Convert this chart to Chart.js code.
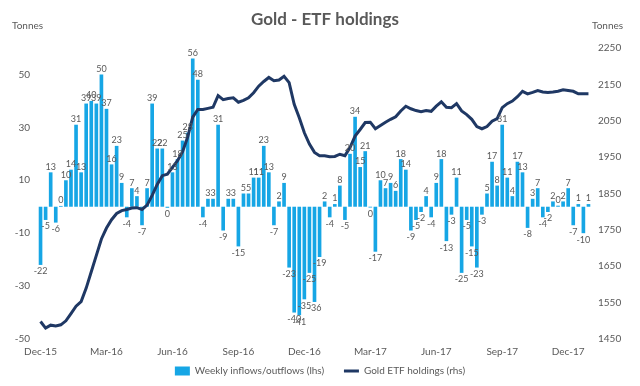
<!DOCTYPE html>
<html>
<head>
<meta charset="utf-8">
<script src="https://cdn.jsdelivr.net/npm/chart.js@4/dist/chart.umd.min.js"></script>
<style>
  html, body { margin: 0; padding: 0; background: #fff; }
  #wrap { width: 640px; height: 386px; position: relative; }
</style>
</head>
<body>
<div id="wrap"><canvas id="chartGoldEtf"></canvas></div>
<script>
// weekly inflows/outflows, tonnes (lhs) - one value per week, Dec-15 to Jan-18
const flows = [
  -22, -5, 13, -6, 0.3, 10, 14, 31, 13, 39, 40, 39, 50, 37, 16, 23, 9, -4, 7, 4,
  -7, 7, 39, 22, 22, -0.4, 13, 18, 25, 28, 56, 48, -4, 3, 3, 31, -9, 3, 3, -15,
  5, 5, 11, 11, 23, 13, -7, 2, 9, -23, -40, -41, -35, -25, -36, -19, 2, -4, 1, 8,
  -5, 20, 34, 15, 21, -0.3, -17, 10, 7, 9, 6, 18, 14, -9, -5, -2, 4, -4, 9, 18,
  -13, -3, 11, -25, -5, -15, -23, -3, 5, 17, 8, 31, 11, 4, 17, 13, -8, 3, 7, -4,
  -2, 2, 0.4, 2, 7, -7, 1, -10, 1
];

// total gold ETF holdings, tonnes (rhs)
const holdings = [
  1498, 1480, 1488, 1486, 1489, 1500, 1520, 1540, 1553, 1590, 1635, 1680, 1725, 1755, 1778, 1795, 1803, 1806, 1810, 1811,
  1806, 1818, 1845, 1875, 1899, 1903, 1922, 1940, 1965, 2005, 2060, 2081, 2081, 2084, 2087, 2119, 2108, 2111, 2113, 2101,
  2106, 2113, 2127, 2145, 2158, 2169, 2160, 2162, 2172, 2155, 2095, 2058, 2017, 1986, 1963, 1954, 1954, 1951, 1952, 1958,
  1954, 1976, 2008, 2026, 2045, 2046, 2028, 2037, 2046, 2054, 2061, 2077, 2090, 2083, 2078, 2075, 2078, 2076, 2090, 2102,
  2087, 2086, 2097, 2077, 2067, 2054, 2034, 2028, 2034, 2049, 2056, 2086, 2097, 2104, 2116, 2131, 2124, 2128, 2133, 2129,
  2128, 2129, 2131, 2135, 2133, 2131, 2124, 2124, 2124
];

const quarterLabels = ['Dec-15', 'Mar-16', 'Jun-16', 'Sep-16', 'Dec-16', 'Mar-17', 'Jun-17', 'Sep-17', 'Dec-17'];
const leftTicks = [-50, -30, -10, 10, 30, 50];
const rightTicks = [1450, 1550, 1650, 1750, 1850, 1950, 2050, 2150, 2250];

const GREY = '#595959';
const FONT = 'Lato';

// one label every 13 weeks
const weeks = flows.map((v, i) => (i % 13 === 0 ? quarterLabels[i / 13] : ''));

// value labels on the bars
const barLabels = {
  id: 'barLabels',
  afterDatasetsDraw(chart) {
    const ctx = chart.ctx;
    const meta = chart.getDatasetMeta(0);
    ctx.save();
    ctx.font = '9px ' + FONT;
    ctx.fillStyle = GREY;
    ctx.textAlign = 'center';
    meta.data.forEach((bar, i) => {
      const v = flows[i];
      const txt = String(Math.round(v)).replace('-0', '0');
      if (v >= 0) {
        ctx.textBaseline = 'bottom';
        ctx.fillText(txt, bar.x, bar.y - 1);
      } else {
        ctx.textBaseline = 'top';
        ctx.fillText(txt, bar.x, bar.y + 2);
      }
    });
    ctx.restore();
  }
};

// title and axis units
const headings = {
  id: 'headings',
  afterDraw(chart) {
    const ctx = chart.ctx;
    ctx.save();
    ctx.fillStyle = GREY;
    ctx.textBaseline = 'middle';
    ctx.textAlign = 'center';
    ctx.font = 'bold 17px ' + FONT;
    ctx.fillText('Gold - ETF holdings', 325, 20);
    ctx.font = '10px ' + FONT;
    ctx.textAlign = 'left';
    ctx.fillText('Tonnes', 12, 26);
    ctx.fillText('Tonnes', 592, 26);
    ctx.restore();
  }
};

new Chart(document.getElementById('chartGoldEtf'), {
  type: 'bar',
  data: {
    labels: weeks,
    datasets: [
      {
        type: 'bar',
        label: 'Weekly inflows/outflows (lhs)',
        data: flows,
        yAxisID: 'yL',
        backgroundColor: '#16A6E5',
        barPercentage: 0.72,
        categoryPercentage: 1,
        pointStyle: 'rect',
        order: 2
      },
      {
        type: 'line',
        label: 'Gold ETF holdings (rhs)',
        data: holdings,
        yAxisID: 'yR',
        borderColor: '#1F3864',
        backgroundColor: '#1F3864',
        borderWidth: 3,
        pointRadius: 0,
        tension: 0,
        pointStyle: 'line',
        order: 1
      }
    ]
  },
  options: {
    responsive: true,
    maintainAspectRatio: false,
    animation: false,
    layout: { padding: { top: 48, left: 0, right: 0, bottom: 0 } },
    plugins: {
      legend: {
        position: 'bottom',
        labels: {
          usePointStyle: true,
          pointStyleWidth: 15,
          boxHeight: 9,
          padding: 7,
          color: GREY,
          font: { family: FONT, size: 10 },
          sort: (a, b) => a.datasetIndex - b.datasetIndex,
          // a wider gap between the two items, as in the original
          generateLabels(chart) {
            const items = Chart.defaults.plugins.legend.labels.generateLabels(chart);
            items.forEach(it => { if (it.datasetIndex === 0) it.text += '     '; });
            return items;
          }
        }
      },
      tooltip: { enabled: false }
    },
    scales: {
      x: {
        grid: { display: false, drawTicks: false },
        border: { display: false },
        ticks: {
          autoSkip: false,
          maxRotation: 0,
          padding: 7,
          color: GREY,
          font: { family: FONT, size: 10 }
        },
        afterFit(scale) { scale.height = 20; }
      },
      yL: {
        position: 'left',
        min: -50,
        max: 60,
        grid: { display: false, drawTicks: false },
        border: { display: false },
        ticks: { padding: 8, color: GREY, font: { family: FONT, size: 10 } },
        afterBuildTicks(scale) { scale.ticks = leftTicks.map(v => ({ value: v })); },
        afterFit(scale) { scale.width = 38; }
      },
      yR: {
        position: 'right',
        min: 1450,
        max: 2250,
        grid: { display: false, drawTicks: false },
        border: { display: false },
        ticks: {
          padding: 7,
          color: GREY,
          font: { family: FONT, size: 10 },
          callback: v => String(v)
        },
        afterBuildTicks(scale) { scale.ticks = rightTicks.map(v => ({ value: v })); },
        afterFit(scale) { scale.width = 49; }
      }
    }
  },
  plugins: [barLabels, headings]
});
</script>
</body>
</html>
